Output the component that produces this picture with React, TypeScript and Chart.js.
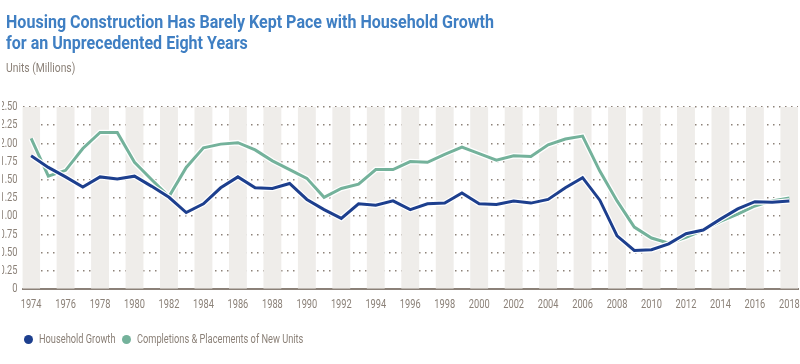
import React, { useEffect, useRef } from "react";
import { Chart, registerables } from "chart.js";

Chart.register(...registerables);

const years: string[] = [
  "1974","1975","1976","1977","1978","1979","1980","1981","1982","1983",
  "1984","1985","1986","1987","1988","1989","1990","1991","1992","1993",
  "1994","1995","1996","1997","1998","1999","2000","2001","2002","2003",
  "2004","2005","2006","2007","2008","2009","2010","2011","2012","2013",
  "2014","2015","2016","2017","2018",
];

const householdGrowth: number[] = [
  1.83, 1.67, 1.54, 1.40, 1.54, 1.51, 1.55, 1.41, 1.26, 1.05,
  1.17, 1.39, 1.54, 1.39, 1.38, 1.45, 1.23, 1.09, 0.97, 1.17,
  1.15, 1.21, 1.09, 1.17, 1.18, 1.32, 1.17, 1.16, 1.21, 1.18,
  1.23, 1.39, 1.53, 1.22, 0.73, 0.53, 0.54, 0.62, 0.76, 0.81,
  0.96, 1.10, 1.20, 1.19, 1.21,
];

const completions: number[] = [
  2.07, 1.55, 1.63, 1.93, 2.15, 2.15, 1.74, 1.50, 1.27, 1.67,
  1.94, 1.99, 2.01, 1.91, 1.76, 1.64, 1.52, 1.26, 1.38, 1.44,
  1.64, 1.64, 1.75, 1.74, 1.85, 1.95, 1.86, 1.77, 1.83, 1.82,
  1.98, 2.06, 2.10, 1.62, 1.21, 0.85, 0.70, 0.63, 0.71, 0.81,
  0.93, 1.03, 1.14, 1.21, 1.25,
];

const yMax = 2.5;
const yStep = 0.25;
// background column bands on even years
const bands: (number | null)[] = years.map((y) => (Number(y) % 2 === 0 ? yMax : null));

const TITLE_LINES = [
  "Housing Construction Has Barely Kept Pace with Household Growth",
  "for an Unprecedented Eight Years",
];
const SUBTITLE = "Units (Millions)";
const SERIES_NAMES = ["Household Growth", "Completions & Placements of New Units"];

const BLUE = "#1d3f8e";
const GREEN = "#74b29b";
const GREY_TEXT = "#8b8178";
const BAND = "#efedea";
const TITLE_BLUE = "#3f7fc3";
const FONT = "Roboto, 'Noto Sans', sans-serif";
const CONDENSE = 0.74;

// Draw canvas text horizontally condensed (the original uses a condensed face)
const condensePlugin = {
  id: "condenseText",
  beforeDraw(c: any) {
    const ctx = c.ctx;
    if (ctx.__origFillText) return;
    const orig = ctx.fillText;
    ctx.__origFillText = orig;
    ctx.fillText = function (text: string, x: number, y: number) {
      this.save();
      this.translate(x, y);
      this.scale(CONDENSE, 1);
      orig.call(this, text, 0, 0);
      this.restore();
    };
  },
  afterDraw(c: any) {
    const ctx = c.ctx;
    if (ctx.__origFillText) {
      ctx.fillText = ctx.__origFillText;
      delete ctx.__origFillText;
    }
  },
};

export default function App() {
  const canvasRef = useRef<HTMLCanvasElement | null>(null);

  useEffect(() => {
    const canvas = canvasRef.current;
    if (!canvas) return;
    const lineDs = (label: string, data: number[], color: string, width: number, order: number) => ({
      type: "line",
      label,
      data,
      borderColor: color,
      borderWidth: width,
      pointRadius: 0,
      tension: 0,
      order,
    });
    const chart = new Chart(canvas, {
      data: {
        labels: years,
        datasets: [
          lineDs(SERIES_NAMES[0], householdGrowth, BLUE, 3, 0),
          lineDs("halo-1", householdGrowth, "#ffffff", 5.5, 1),
          lineDs(SERIES_NAMES[1], completions, GREEN, 3, 2),
          lineDs("halo-2", completions, "#ffffff", 5.5, 3),
          {
            type: "bar",
            label: "bands",
            data: bands,
            backgroundColor: BAND,
            borderWidth: 0,
            barPercentage: 1,
            categoryPercentage: 1,
            order: 10,
          },
        ],
      } as any,
      options: {
        animation: false,
        responsive: false,
        maintainAspectRatio: false,
        layout: { padding: { top: 107, bottom: 44, left: 2, right: 2 } },
        plugins: {
          legend: { display: false },
          title: { display: false },
          tooltip: { enabled: false },
        },
        scales: {
          x: {
            type: "category",
            offset: true,
            afterFit: (scale: any) => {
              scale.paddingLeft = 0;
              scale.paddingRight = 0;
            },
            grid: { display: false, drawTicks: false },
            border: { display: true, color: GREY_TEXT, width: 2 },
            ticks: {
              autoSkip: false,
              maxRotation: 0,
              minRotation: 0,
              padding: 8,
              color: GREY_TEXT,
              font: { family: FONT, size: 12.5 },
              callback: (_v: any, i: number) => (Number(years[i]) % 2 === 0 ? years[i] : ""),
            },
          },
          y: {
            min: 0,
            max: yMax,
            afterFit: (scale: any) => {
              scale.width = 20.5;
            },
            border: { display: false, dash: [1.5, 4.5] },
            grid: {
              drawTicks: false,
              color: (ctx: any) => (ctx.tick && ctx.tick.value === 0 ? "rgba(0,0,0,0)" : "#8d8279"),
              lineWidth: 1.5,
            },
            ticks: {
              stepSize: yStep,
              padding: 5,
              color: GREY_TEXT,
              font: { family: FONT, size: 12.5 },
              callback: (v: any) => (Number(v) === 0 ? "0" : Number(v).toFixed(2)),
            },
          },
        },
      } as any,
      plugins: [condensePlugin],
    });
    return () => chart.destroy();
  }, []);

  const condensed = (k: number): React.CSSProperties => ({
    display: "inline-block",
    transform: `scaleX(${k})`,
    transformOrigin: "left center",
    whiteSpace: "nowrap",
  });

  return (
    <div style={{ position: "absolute", left: 0, top: 0, width: 800, height: 364, background: "#fff", overflow: "hidden" }}>
      <canvas ref={canvasRef} width={800} height={364} style={{ position: "absolute", left: 0, top: 0, width: 800, height: 364 }} />
      <div
        style={{
          position: "absolute",
          left: 6,
          top: 10.5,
          fontFamily: FONT,
          fontWeight: "bold",
          fontSize: 19,
          lineHeight: "21px",
          color: TITLE_BLUE,
          whiteSpace: "nowrap",
        }}
      >
        {TITLE_LINES.map((t) => (
          <div key={t}>
            <span style={condensed(0.845)}>{t}</span>
          </div>
        ))}
      </div>
      <div
        style={{
          position: "absolute",
          left: 6,
          top: 60.5,
          fontFamily: FONT,
          fontSize: 12,
          lineHeight: "14px",
          color: GREY_TEXT,
        }}
      >
        <span style={condensed(0.86)}>{SUBTITLE}</span>
      </div>
      {[BLUE, GREEN].map((c, i) => (
        <React.Fragment key={i}>
          <span
            style={{
              position: "absolute",
              left: i === 0 ? 23.5 : 121.5,
              top: 334.5,
              width: 9,
              height: 9,
              borderRadius: "50%",
              background: c,
            }}
          />
          <div
            style={{
              position: "absolute",
              left: i === 0 ? 38.5 : 137,
              top: 332,
              fontFamily: FONT,
              fontSize: 12.5,
              lineHeight: "14px",
              color: GREY_TEXT,
            }}
          >
            <span style={condensed(CONDENSE)}>{SERIES_NAMES[i]}</span>
          </div>
        </React.Fragment>
      ))}
    </div>
  );
}
